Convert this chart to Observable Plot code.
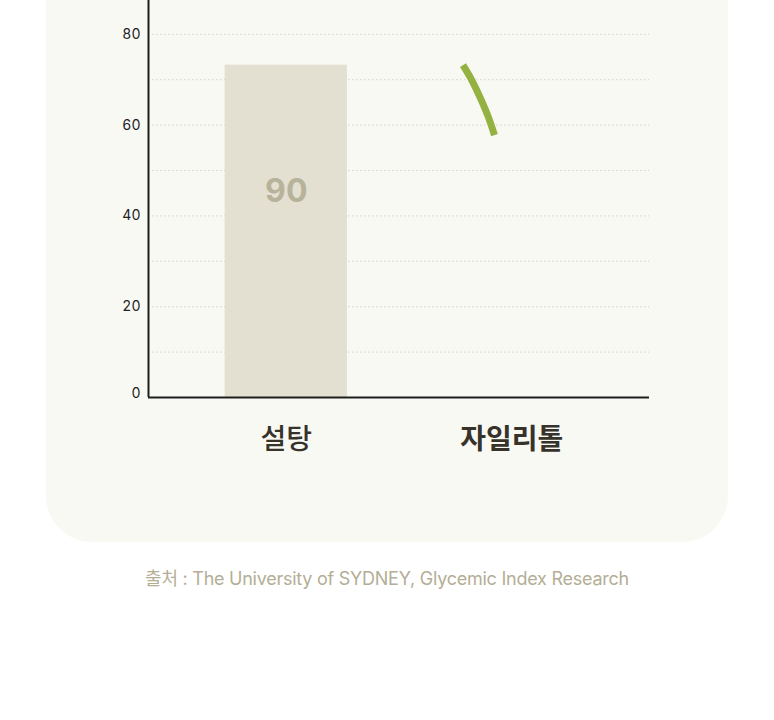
<!DOCTYPE html>
<html>
<head>
<meta charset="utf-8">
<script src="https://cdn.jsdelivr.net/npm/d3@7"></script>
<script src="https://cdn.jsdelivr.net/npm/@observablehq/plot@0.6"></script>
<style>
  html, body { margin: 0; padding: 0; background: #ffffff; overflow: hidden; }
  body { width: 774px; height: 720px; position: relative; font-family: Inter, "Noto Sans CJK KR", sans-serif; }
  #panel { position: absolute; left: 46px; top: -300px; width: 682px; height: 842px; background: #f9f9f4; border-radius: 0 0 46px 46px; }
  #chart { position: absolute; left: 46px; top: -77px; }
  #caption { position: absolute; left: 0; width: 774px; top: 564px; text-align: center; font-size: 18px; color: #b4ae96; letter-spacing: -0.25px; }
  svg { overflow: visible; }
</style>
</head>
<body>
<div id="panel"></div>
<div id="chart"></div>
<div id="caption">출처 : The University of SYDNEY, Glycemic Index Research</div>
<script>
// Data
const categories = ["설탕", "자일리톨"];
const giValues = [90, 7];              // glycemic index labels
const barShown = [73.2, null];         // bar height as drawn (mid-animation)
const catPos = [0.275, 0.725];         // category centers on a 0–1 x scale
const barHalfWidth = 0.122;
const yTicks = [20, 40, 60, 80];
const gridLines = [10, 20, 30, 40, 50, 60, 70, 80, 90];
// green stroke (partial curve) in data units
const curveX = [0.6277, 0.6467, 0.6647, 0.6786, 0.6906];
const curveY = [73.2, 69.6, 65.4, 61.7, 57.8];

const bars = categories.map((c, i) => ({cat: c, x: catPos[i], v: barShown[i], gi: giValues[i]}))
  .filter(d => d.v != null);
const curve = curveX.map((x, i) => ({x, y: curveY[i]}));
const labels = categories.map((c, i) => ({cat: c, x: catPos[i]}));

const chart = Plot.plot({
  width: 682,
  height: 554,
  marginLeft: 102,
  marginRight: 79,
  marginTop: 20,
  marginBottom: 80,
  style: {background: "transparent", fontFamily: "Inter, Noto Sans CJK KR, sans-serif"},
  x: {domain: [0, 1], axis: null},
  y: {domain: [0, 100], axis: null},
  marks: [
    Plot.ruleY(gridLines, {stroke: "#d6d3c8", strokeWidth: 1, strokeDasharray: "1.5,2.5"}),
    Plot.rectY(bars, {x1: d => d.x - barHalfWidth, x2: d => d.x + barHalfWidth, y1: 0, y2: "v", fill: "#e3dfd1"}),
    Plot.text(bars, {x: "x", y: d => d.gi / 2, text: d => String(d.gi), fontSize: 32, fontWeight: 700, fill: "#b7b39b", dy: -1}),
    Plot.line(curve, {x: "x", y: "y", curve: "natural", stroke: "#94b242", strokeWidth: 7, strokeLinecap: "butt"}),
    Plot.ruleX([0], {y1: 0, y2: 100, stroke: "#1e1e1e", strokeWidth: 2}),
    Plot.ruleY([0], {x1: 0, x2: 1, stroke: "#1e1e1e", strokeWidth: 2}),
    Plot.axisY({ticks: yTicks, tickSize: 0, tickPadding: 8, fontSize: 14, fill: "#222", label: null}),
    Plot.axisY({ticks: [0], tickSize: 0, tickPadding: 8, fontSize: 14, fill: "#222", label: null, dy: -4}),
    Plot.text(labels.filter((d, i) => i === 0), {x: "x", y: 0, text: "cat", dy: 43, fontSize: 28, fontWeight: 500, fill: "#37332a", fontFamily: "Noto Sans CJK KR"}),
    Plot.text(labels.filter((d, i) => i === 1), {x: "x", y: 0, text: "cat", dy: 43, fontSize: 28, fontWeight: 700, fill: "#37332a", fontFamily: "Noto Sans CJK KR"})
  ]
});
document.getElementById("chart").appendChild(chart);
</script>
</body>
</html>
